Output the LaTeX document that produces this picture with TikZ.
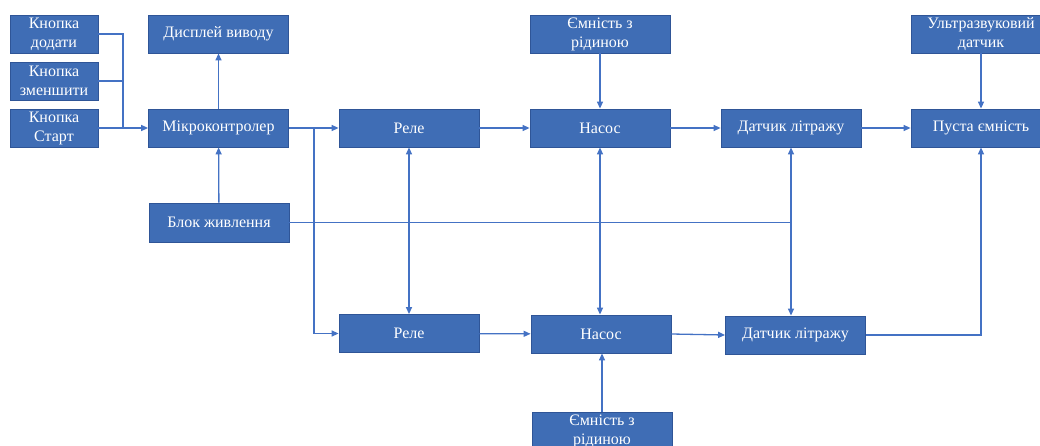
\documentclass[tikz,border=0pt]{standalone}
\usepackage{fontspec}
\setmainfont{Liberation Serif}
\usetikzlibrary{arrows.meta}
\definecolor{boxfill}{HTML}{3F6DB5}
\definecolor{boxdraw}{HTML}{2F5597}
\definecolor{wire}{HTML}{4472C4}
\tikzset{
  blk/.style={rectangle, fill=boxfill, draw=boxdraw, line width=0.8pt, minimum width=140pt, minimum height=38pt, inner sep=0pt, text=white, align=center, font=\fontsize{16}{19}\selectfont},
  btn/.style={blk, minimum width=88pt},
  wireline/.style={draw=wire, line width=1.3pt},
  arr/.style={wireline, -{Triangle[length=7pt,width=6pt]}},
  darr/.style={wireline, {Triangle[length=7pt,width=6pt]}-{Triangle[length=7pt,width=6pt]}}
}
\begin{document}
\begin{tikzpicture}[x=1pt,y=-1pt]
\useasboundingbox (0,0) rectangle (1040,446);
\clip (0,0) rectangle (1040,446);
\node[btn] (b1) at (54,34) {Кнопка\\додати};
\node[btn] (b2) at (54,81) {Кнопка\\зменшити};
\node[btn] (b3) at (54,128) {Кнопка\\Старт};
\node[blk] (disp) at (218.5,34) {Дисплей виводу};
\node[blk] (mc) at (218.5,128) {Мікроконтролер};
\node[blk, minimum height=39pt] (pw) at (219,222.5) {Блок живлення};
\node[blk] (r1) at (409,128) {Реле};
\node[blk] (r2) at (409,333.5) {Реле};
\node[blk] (t1) at (600,34) {Ємність з\\рідиною};
\node[blk] (p1) at (600,128) {Насос};
\node[blk] (p2) at (601,334) {Насос};
\node[blk] (t2) at (602,431) {Ємність з\\рідиною};
\node[blk] (d1) at (791,128) {Датчик літражу};
\node[blk] (d2) at (795.5,335) {Датчик літражу};
\node[blk] (us) at (981,34) {Ультразвуковий\\датчик};
\node[blk] (e) at (981,128) {Пуста ємність};
\coordinate (j) at (123,128);
\coordinate (s) at (314,128);
\draw[wireline] (b1.east) -| (j);
\draw[wireline] (b2.east) -| (j);
\draw[arr] (b3.east) -- (mc.west);
\draw[arr] (mc) -- (disp);
\draw[arr] (pw) -- (mc);
\draw[arr] (mc.east) -- (r1.west);
\draw[arr] (s) |- (r2.west);
\draw[darr] (r1) -- (r2);
\draw[arr] (r1) -- (p1);
\draw[arr] (t1) -- (p1);
\draw[darr] (p1.south) -- (p1.south |- p2.north);
\draw[arr] (r2) -- (p2);
\draw[arr] (t2.north) -- (t2.north |- p2.south);
\draw[arr] (p1) -- (d1);
\draw[arr] (d1) -- (e);
\draw[arr] (us) -- (e);
\draw[darr] (d1.south) -- (d1.south |- d2.north);
\draw[arr] (p2.east) -- (d2.west);
\draw[arr] (d2.east) -| (e.south);
\draw[wireline] (pw.east) -- (pw.east -| d1.south);
\end{tikzpicture}
\end{document}
